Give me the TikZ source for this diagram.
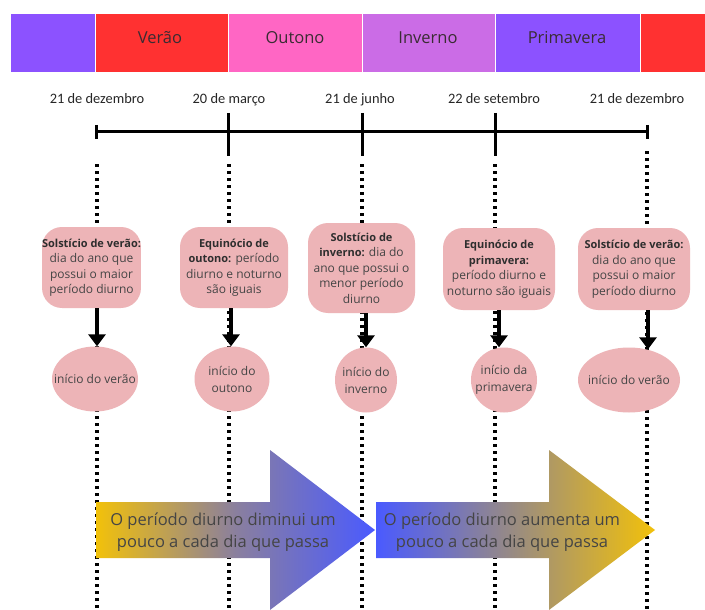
\documentclass[tikz,border=0pt]{standalone}
\usepackage{fontspec}
\setmainfont{Open Sans}
\newfontfamily\datefont{Carlito}
\usetikzlibrary{arrows.meta,shapes.geometric}
\definecolor{bandPurple}{HTML}{8C52FF}
\definecolor{bandRed}{HTML}{FF3131}
\definecolor{bandPink}{HTML}{FF66C4}
\definecolor{bandViolet}{HTML}{CB6CE6}
\definecolor{bandTxt}{HTML}{3A2C33}
\definecolor{boxPink}{HTML}{EDB4B7}
\definecolor{arrGold}{HTML}{F2C10A}
\definecolor{arrBlue}{HTML}{4A5AFF}
\definecolor{arrMid}{HTML}{8A7F9E}
\definecolor{arrMidB}{HTML}{9A8C80}
\definecolor{txt}{HTML}{454545}
\definecolor{txtb}{HTML}{2E2E2E}
\newcommand\boldpart[1]{{\fontsize{11}{15.5}\selectfont\bfseries\color{txtb}#1}}
\begin{document}
\begin{tikzpicture}[x=1pt,y=-1pt,
  seg/.style={draw=white, line width=1pt, inner sep=0pt, outer sep=0pt, minimum height=59pt},
  bandlabel/.style={anchor=base, inner sep=0pt, font=\fontsize{16.5}{20}\selectfont, text=bandTxt},
  datelabel/.style={anchor=base, inner sep=0pt, font=\datefont\fontsize{14.4}{17}\selectfont, text=black!85},
  tline/.style={line width=3pt, black},
  dotline/.style={line width=3.3pt, dash pattern=on 3.2pt off 3.8pt, black},
  boxst/.style={rectangle, rounded corners=20pt, fill=boxPink, inner sep=0pt, align=center, text=txt, font=\fontsize{12}{15.5}\selectfont},
  circst/.style={ellipse, fill=boxPink, inner sep=0pt, minimum height=65pt},
  circtext/.style={align=center, inner sep=0pt, text=txt, font=\fontsize{12}{17}\selectfont},
  conn/.style={line width=4pt, -{Triangle[width=17pt,length=12pt]}, black},
  arrowtext/.style={align=center, inner sep=0pt, text=txt, font=\fontsize{16.5}{22}\selectfont}
]
\fill[white] (0,0) rectangle (705,610);
\useasboundingbox (0,0) rectangle (705,610);

% season band
\node[seg, fill=bandPurple, minimum width=85pt]  (s0) at (52.5,43.5) {};
\node[seg, fill=bandRed,    minimum width=133pt] (s1) at (161.5,43.5) {};
\node[seg, fill=bandPink,   minimum width=134pt] (s2) at (295,43.5) {};
\node[seg, fill=bandViolet, minimum width=133pt] (s3) at (428.5,43.5) {};
\node[seg, fill=bandPurple, minimum width=145pt] (s4) at (567.5,43.5) {};
\node[seg, fill=bandRed,    minimum width=66pt]  (s5) at (673,43.5) {};
\node[bandlabel] (lv) at (160,44) {Verão};
\node[bandlabel] (lo) at (295,44) {Outono};
\node[bandlabel] (li) at (428,44) {Inverno};
\node[bandlabel] (lp) at (567,44) {Primavera};

% dates
\node[datelabel] (dt1) at (97,104) {21 de dezembro};
\node[datelabel] (dt2) at (229,104) {20 de março};
\node[datelabel] (dt3) at (360,104) {21 de junho};
\node[datelabel] (dt4) at (494,104) {22 de setembro};
\node[datelabel] (dt5) at (637,104) {21 de dezembro};

% timeline
\coordinate (t1) at (96,132);
\coordinate (t2) at (228,132);
\coordinate (t3) at (362,132);
\coordinate (t4) at (495,132);
\coordinate (t5) at (647,132);
\draw[tline] (t1) -- (t5);
\draw[tline] ([yshift=7pt]t1) -- ([yshift=-7pt]t1);
\draw[tline] ([yshift=7pt]t5) -- ([yshift=-7pt]t5);
\draw[tline] ([yshift=19pt]t2) -- ([yshift=-24pt]t2);
\draw[tline] ([yshift=19pt]t3) -- ([yshift=-24pt]t3);
\draw[tline] ([yshift=19pt]t4) -- ([yshift=-24pt]t4);

% dotted guide lines (behind everything below the timeline)
\coordinate (u1) at (97,164);  \coordinate (e1) at (97,612);
\coordinate (u2) at (229,164); \coordinate (e2) at (229,612);
\coordinate (u3) at (362,164); \coordinate (e3) at (362,612);
\coordinate (u4) at (495,164); \coordinate (e4) at (495,612);
\coordinate (u5) at (647,151); \coordinate (e5) at (647,612);
\draw[dotline] (u1) -- (e1);
\draw[dotline] (u2) -- (e2);
\draw[dotline] (u3) -- (e3);
\draw[dotline] (u4) -- (e4);
\draw[dotline] (u5) -- (e5);

% big arrows
\shade[left color=arrGold, right color=arrBlue, middle color=arrMid]
  (96,502) -- (270,502) -- (270,450) -- (375,530) -- (270,610) -- (270,558) -- (96,558) -- cycle;
\shade[left color=arrBlue, right color=arrGold, middle color=arrMidB]
  (376,502) -- (549,502) -- (549,450) -- (655,530) -- (549,610) -- (549,558) -- (376,558) -- cycle;

% event boxes
\node[boxst, minimum width=97pt, minimum height=81pt] (b1) at (91.5,267.5)
  {\boldpart{Solstício de verão:}\\dia do ano que\\possui o maior\\período diurno};
\node[boxst, minimum width=108pt, minimum height=81pt] (b2) at (234,267.5)
  {\boldpart{Equinócio de}\\\boldpart{outono:} período\\diurno e noturno\\são iguais};
\node[boxst, minimum width=107pt, minimum height=90pt] (b3) at (361.5,268)
  {\boldpart{Solstício de}\\\boldpart{inverno:} dia do\\ano que possui o\\menor período\\diurno};
\node[boxst, minimum width=112pt, minimum height=82pt] (b4) at (499,269)
  {\boldpart{Equinócio de}\\\boldpart{primavera:}\\período diurno e\\noturno são iguais};
\node[boxst, minimum width=112pt, minimum height=82pt] (b5) at (634,269)
  {\boldpart{Solstício de verão:}\\dia do ano que\\possui o maior\\período diurno};

% season start ellipses
\node[circst, minimum width=86pt]  (c1) at (95,379) {};
\node[circst, minimum width=75pt]  (c2) at (232,379) {};
\node[circst, minimum width=62pt]  (c3) at (366,380) {};
\node[circst, minimum width=66pt]  (c4) at (504,380) {};
\node[circst, minimum width=102pt] (c5) at (629,380) {};
\node[circtext] (c1t) at (c1) {início do verão};
\node[circtext] (c2t) at (c2) {início do\\outono};
\node[circtext] (c3t) at (c3) {início do\\inverno};
\node[circtext] (c4t) at (c4) {início da\\primavera};
\node[circtext] (c5t) at (c5) {início do verão};

% connectors
\coordinate (x1) at (97,0);
\coordinate (x2) at (231,0);
\coordinate (x3) at (366,0);
\coordinate (x4) at (499,0);
\coordinate (x5) at (648,0);
\draw[conn] (b1.south -| x1) -- (c1.north -| x1);
\draw[conn] (b2.south -| x2) -- (c2.north -| x2);
\draw[conn] (b3.south -| x3) -- (c3.north -| x3);
\draw[conn] (b4.south -| x4) -- (c4.north -| x4);
\draw[conn] (b5.south -| x5) -- ([yshift=-2pt]c5.north -| x5);

% arrow texts
\node[arrowtext] (a1t) at (223,532) {O período diurno diminui um\\pouco a cada dia que passa};
\node[arrowtext] (a2t) at (502,532) {O período diurno aumenta um\\pouco a cada dia que passa};
\end{tikzpicture}
\end{document}
